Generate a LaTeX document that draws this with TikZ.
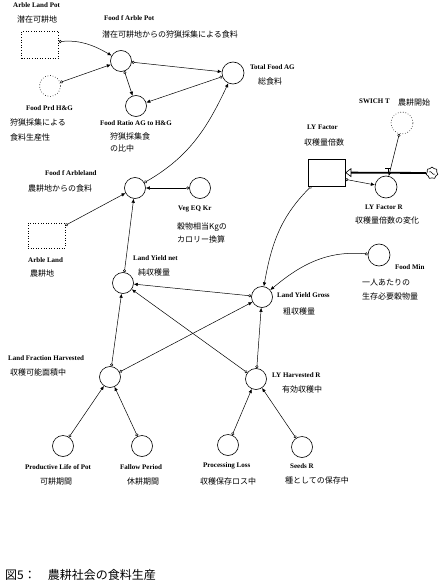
\documentclass[tikz,border=0pt]{standalone}
\usepackage{fontspec}
\setmainfont{Liberation Serif}
\newfontfamily\jpfont{Noto Sans CJK JP}
\usetikzlibrary{arrows.meta,shapes.symbols}

\begin{document}
\begin{tikzpicture}[x=1pt,y=1pt,
    en/.style={font=\fontsize{7}{8}\selectfont\bfseries,anchor=west,inner sep=0pt},
    jp/.style={font=\jpfont\fontsize{8}{9}\selectfont,anchor=west,inner sep=0pt},
    conv/.style={circle,draw,line width=0.6pt,minimum size=21pt,inner sep=0pt},
    stockbox/.style={draw,line width=0.6pt,minimum width=37pt,minimum height=27pt,inner sep=0pt},
    ghost/.style={dotted},
    conn/.style={{Circle[open,length=3pt,width=3pt]}-{Latex[length=4pt,width=3.5pt]},line width=0.5pt},
    pipe/.style={-{Triangle[open,length=6pt,width=9pt,line width=0.6pt]},line width=1.8pt}]

  \useasboundingbox (0,0) rectangle (446,-583);

  \node[stockbox,ghost] (alp) at (40,-45) {};
  \node[conv] (fap) at (121,-61) {};
  \node[conv,ghost] (fph) at (50,-86) {};
  \node[conv] (frt) at (136,-106) {};
  \node[conv,minimum size=22pt] (tfa) at (233,-73) {};
  \node[conv,ghost,minimum size=22pt] (swt) at (402,-123) {};
  \node[stockbox] (lyf) at (326.5,-172.5) {};
  \node[conv,minimum size=22pt] (lyr) at (386,-187) {};
  \node[cloud,cloud puffs=7,draw,line width=0.6pt,minimum width=12pt,minimum height=12pt,inner sep=0pt] (cld) at (432,-173) {};
  \coordinate (vlv) at (388,-173);
  \node[conv] (fal) at (135,-188) {};
  \node[conv] (veg) at (200,-188) {};
  \node[stockbox,ghost,minimum height=25pt] (arl) at (46.5,-235.5) {};
  \node[conv] (lyn) at (123,-283) {};
  \node[conv] (lyg) at (262,-297) {};
  \node[conv,minimum size=22pt] (fmn) at (379,-255) {};
  \node[conv] (lfh) at (110,-377) {};
  \node[conv] (lyh) at (256,-379) {};
  \node[conv] (plp) at (63,-446) {};
  \node[conv] (fpd) at (142,-446) {};
  \node[conv] (prl) at (228,-445) {};
  \node[conv] (sdr) at (302,-447) {};

  \node[en] (alpE) at (13,-5) {Arble Land Pot};
  \node[jp] (alpJ) at (17,-19) {潜在可耕地};
  \node[en] (fapE) at (104,-18) {Food f Arble Pot};
  \node[jp] (fapJ) at (102,-35) {潜在可耕地からの狩猟採集による食料};
  \node[en] (fphE) at (26,-108) {Food Prd H\&G};
  \node[jp] (fphJ) at (10,-123) {狩猟採集による};
  \node[jp] (fphK) at (10,-137) {食料生産性};
  \node[en] (frtE) at (100,-123) {Food Ratio AG to H\&G};
  \node[jp] (frtJ) at (110,-137) {狩猟採集食};
  \node[jp] (frtK) at (110,-148) {の比中};
  \node[en] (tfaE) at (250,-67) {Total Food AG};
  \node[jp] (tfaJ) at (258,-81) {総食料};
  \node[en] (swtE) at (359,-101) {SWICH T};
  \node[jp] (swtJ) at (398,-102) {農耕開始};
  \node[en] (lyfE) at (307,-127) {LY Factor};
  \node[jp] (lyfJ) at (304,-142) {収穫量倍数};
  \node[en] (lyrE) at (365,-207) {LY Factor R};
  \node[jp] (lyrJ) at (355,-220) {収穫量倍数の変化};
  \node[en] (falE) at (45,-173) {Food f Arbleland};
  \node[jp] (falJ) at (28,-188) {農耕地からの食料};
  \node[en] (vegE) at (178,-209) {Veg EQ Kr};
  \node[jp] (vegJ) at (177,-227) {穀物相当Kgの};
  \node[jp] (vegK) at (177,-239) {カロリー換算};
  \node[en] (arlE) at (28,-260) {Arble Land};
  \node[jp] (arlJ) at (30,-273) {農耕地};
  \node[en] (lynE) at (133,-258) {Land Yield net};
  \node[jp] (lynJ) at (138,-272) {純収穫量};
  \node[en] (lygE) at (277,-295) {Land Yield Gross};
  \node[jp] (lygJ) at (283,-311) {粗収穫量};
  \node[en] (fmnE) at (395,-267) {Food Min};
  \node[jp] (fmnJ) at (362,-283) {一人あたりの};
  \node[jp] (fmnK) at (362,-296) {生存必要穀物量};
  \node[en] (lfhE) at (8,-358) {Land Fraction Harvested};
  \node[jp] (lfhJ) at (10,-372) {収穫可能面積中};
  \node[en] (lyhE) at (272,-375) {LY Harvested R};
  \node[jp] (lyhJ) at (282,-389) {有効収穫中};
  \node[en] (plpE) at (25,-467) {Productive Life of Pot};
  \node[jp] (plpJ) at (40,-481) {可耕期間};
  \node[en] (fpdE) at (120,-467) {Fallow Period};
  \node[jp] (fpdJ) at (127,-481) {休耕期間};
  \node[en] (prlE) at (203,-466) {Processing Loss};
  \node[jp] (prlJ) at (200,-481) {収穫保存ロス中};
  \node[en] (sdrE) at (290,-466) {Seeds R};
  \node[jp] (sdrJ) at (285,-480) {種としての保存中};
  \node[anchor=west,inner sep=0pt,font=\jpfont\fontsize{12}{14}\selectfont] (cap) at (5,-575) {図5：　農耕社会の食料生産};

  \draw[pipe] (cld) -- (lyf);
  \draw[line width=0.6pt] (vlv) -- ++(0,5) ++(-3,0) -- ++(6,0);
  \draw[line width=0.5pt] ([shift={(-3,1)}]cld.center) to[bend left=70] ([shift={(0,0)}]cld.center) to[bend right=70] ([shift={(3,-1)}]cld.center);

  \draw[conn] (alp.10) to[out=5,in=150] (fap);
  \draw[conn] (fph) -- (fap);
  \draw[conn] (fap) -- (tfa);
  \draw[conn] (fap) -- (frt);
  \draw[conn] (tfa) -- (frt);
  \draw[conn] (fal) to[out=30,in=245] (tfa);
  \draw[conn] (veg) -- (fal);
  \draw[conn] (arl) -- (fal);
  \draw[conn] (lyn) -- (fal);
  \draw[conn] (swt) -- (lyr);
  \draw[conn] (lyf.-20) -- (lyr);
  \draw[conn] (lyf.-138) to[out=225,in=80] (lyg);
  \draw[conn] (fmn) to[out=175,in=40] (lyg);
  \draw[conn] (lyg) -- (lyn);
  \draw[conn] (lfh) -- (lyn);
  \draw[conn] (lfh) -- (lyg);
  \draw[conn] (lyh) -- (lyn);
  \draw[conn] (lyh) -- (lyg);
  \draw[conn] (plp) -- (lfh);
  \draw[conn] (fpd) -- (lfh);
  \draw[conn] (prl) -- (lyh);
  \draw[conn] (sdr) -- (lyh);
\end{tikzpicture}
\end{document}
